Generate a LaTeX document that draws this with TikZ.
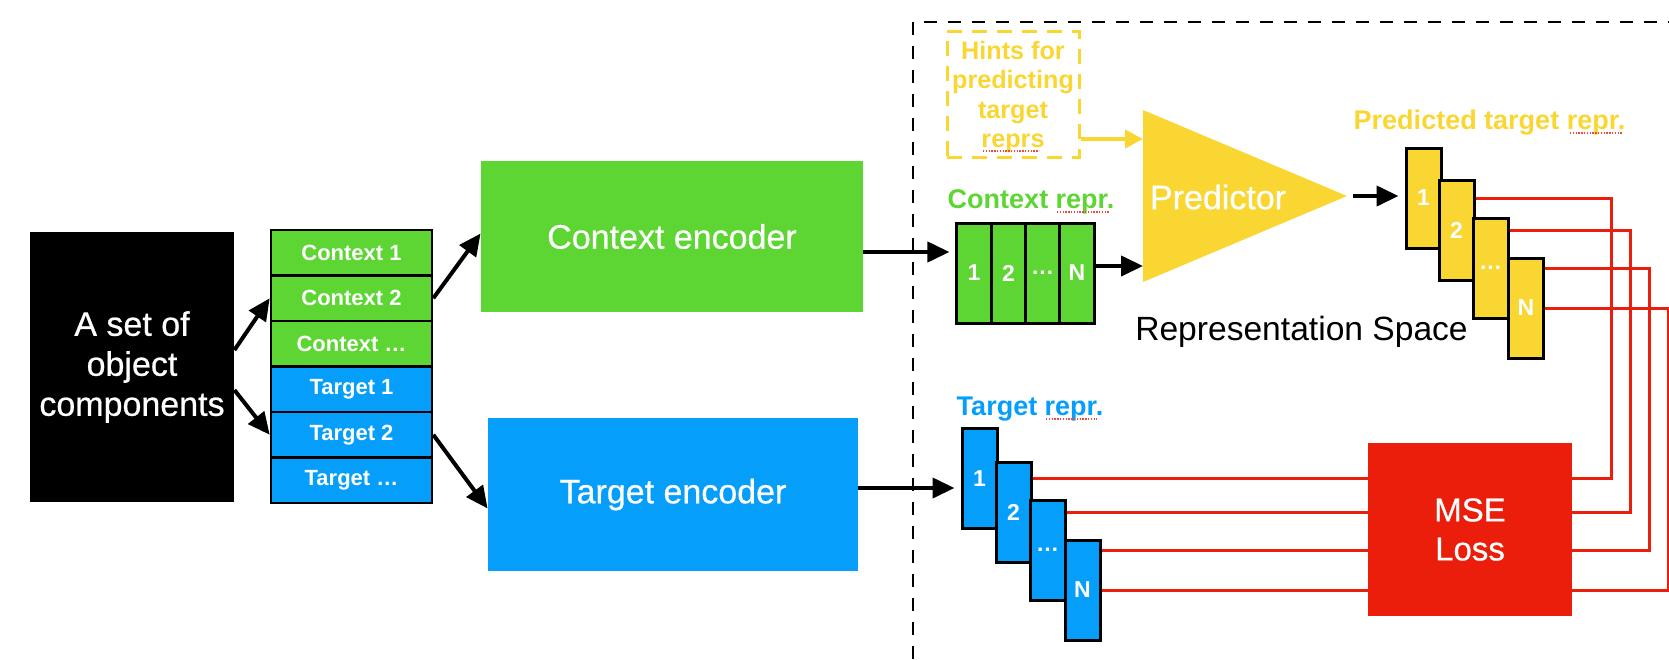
\documentclass[tikz,border=0pt]{standalone}
\usepackage{fontspec}
\setmainfont{Liberation Sans}
\newfontfamily\mediumsans{Liberation Sans}[FakeBold=0.6]
\usetikzlibrary{arrows.meta,calc}

\definecolor{cgreen}{RGB}{93,214,52}
\definecolor{cblue}{RGB}{5,158,250}
\definecolor{cyellow}{RGB}{250,214,50}
\definecolor{cred}{RGB}{234,30,10}

\begin{document}
\begin{tikzpicture}[x=0.5pt,y=-0.5pt,
  bigtext/.style={inner sep=0pt, text=white, align=center,
    font=\mediumsans\fontsize{17}{20}\selectfont},
  stackcell/.style={draw=black, line width=1.3pt, minimum width=80.5pt,
    minimum height=22.75pt, inner sep=0pt, text=white,
    font=\fontsize{11}{13}\selectfont\bfseries},
  reprcell/.style={draw=black, line width=1.5pt, minimum width=17.5pt,
    minimum height=50pt, inner sep=0pt, text=white,
    font=\fontsize{11.5}{13}\selectfont\bfseries},
  reprlabel/.style={inner sep=0pt, font=\fontsize{13.5}{16}\selectfont\bfseries},
  arr/.style={line width=2pt, -{Triangle[length=11pt,width=10pt]}},
  lossline/.style={draw=cred, line width=1.5pt},
  spell/.style={draw=cred!80, line width=0.6pt, dash pattern=on 0.7pt off 0.7pt},
]
\useasboundingbox (0,0) rectangle (1669,659);

% representation-space frame
\draw[line width=1pt, dash pattern=on 6.5pt off 5.5pt] (913,659) -- (913,22) -- (1669,22);

% input set
\node[bigtext, fill=black, minimum width=102pt, minimum height=135pt] (src) at (132,367)
  {A set of\\object\\components};

% context / target split
\node[stackcell, fill=cgreen] (ctx1) at (351.5,252.75) {Context 1};
\node[stackcell, fill=cgreen] (ctx2) at (351.5,298.25) {Context 2};
\node[stackcell, fill=cgreen] (ctx3) at (351.5,343.75) {Context \textellipsis};
\node[stackcell, fill=cblue] (tgt1) at (351.5,389.25) {Target 1};
\node[stackcell, fill=cblue] (tgt2) at (351.5,434.75) {Target 2};
\node[stackcell, fill=cblue] (tgt3) at (351.5,480.25) {Target \textellipsis};

% encoders
\node[bigtext, fill=cgreen, minimum width=191pt, minimum height=75.5pt] (cenc) at (672,236.5) {Context encoder};
\node[bigtext, fill=cblue, minimum width=185pt, minimum height=76.5pt] (tenc) at (673,494.5) {Target encoder};

\draw[arr] ([yshift=8.5pt]src.east) -- (ctx2.west);
\draw[arr] ([yshift=-11.5pt]src.east) -- (tgt2.west);
\draw[arr] (ctx2.east) -- ([yshift=1.5pt]cenc.west);
\draw[arr] (tgt2.east) -- ([yshift=-7pt]tenc.west);

% loss wiring: each target cell to its predicted cell, under the blocks
\coordinate (k1) at (1611,0);
\coordinate (k2) at (1630,0);
\coordinate (k3) at (1649,0);
\coordinate (k4) at (1668,0);
\coordinate (tb1c) at (979.5,478.5);
\coordinate (tb2c) at (1013.5,512);
\coordinate (tb3c) at (1047.5,550);
\coordinate (tb4c) at (1082.5,590);
\coordinate (pb1c) at (1423.5,198);
\coordinate (pb2c) at (1456.5,230.5);
\coordinate (pb3c) at (1490.5,268);
\coordinate (pb4c) at (1526,308);
\draw[lossline] (tb1c) -- (tb1c -| k1) |- (pb1c);
\draw[lossline] (tb2c) -- (tb2c -| k2) |- (pb2c);
\draw[lossline] (tb3c) -- (tb3c -| k3) |- (pb3c);
\draw[lossline] (tb4c) -- (tb4c -| k4) |- (pb4c);

% target representations
\node[reprcell, fill=cblue] (tb1) at (tb1c) {1};
\node[reprcell, fill=cblue] (tb2) at (tb2c) {2};
\node[reprcell, fill=cblue] (tb3) at (tb3c) {\textellipsis};
\node[reprcell, fill=cblue] (tb4) at (tb4c) {N};

% predicted target representations
\node[reprcell, fill=cyellow] (pb1) at (pb1c) {1};
\node[reprcell, fill=cyellow] (pb2) at (pb2c) {2};
\node[reprcell, fill=cyellow] (pb3) at (pb3c) {\textellipsis};
\node[reprcell, fill=cyellow] (pb4) at (pb4c) {N};

% loss
\node[bigtext, fill=cred, minimum width=102pt, minimum height=86.5pt,
  font=\mediumsans\fontsize{16.5}{19.5}\selectfont] (mse) at (1470,529.5) {MSE\\Loss};

% context representation
\node[reprcell, fill=cgreen, minimum width=17.125pt] (cr1) at (974.1,273) {1};
\node[reprcell, fill=cgreen, minimum width=17.125pt] (cr2) at (1008.4,273) {2};
\node[reprcell, fill=cgreen, minimum width=17.125pt] (cr3) at (1042.6,273) {\textellipsis};
\node[reprcell, fill=cgreen, minimum width=17.125pt] (cr4) at (1076.9,273) {N};

% predictor
\coordinate (predL) at (1143,196);
\coordinate (predT) at (1347,196);
\fill[cyellow] (1143,110) -- (predT) -- (1143,282) -- cycle;
\node[bigtext] (pred) at (1218,197) {Predictor};

% hints
\node[draw=cyellow, line width=1.5pt, dash pattern=on 7.5pt off 5pt,
  minimum width=66pt, minimum height=63pt, inner sep=0pt, text=cyellow, align=center,
  font=\fontsize{12.6}{14.6}\selectfont\bfseries] (hints) at (1013,94) {};
\node[inner sep=0pt, text=cyellow, align=center,
  font=\fontsize{12.6}{14.6}\selectfont\bfseries] (hintstext) at (1013,97)
  {Hints for\\predicting\\target\\reprs};
\draw[cyellow, line width=2pt, -{Triangle[length=9pt,width=9pt]}]
  ([yshift=-22.5pt]hints.east) -- ([yshift=-22.5pt]hints.east -| predL);

% main flow arrows
\draw[arr] ([yshift=-7.75pt]cenc.east) -- ([xshift=-3pt,yshift=-7.75pt]cenc.east -| cr1.west);
\draw[arr] ([yshift=3.25pt]tenc.east) -- ([xshift=-3pt,yshift=3.25pt]tenc.east -| tb1.west);
\draw[arr] ([yshift=3.5pt]cr4.east) -- ([yshift=3.5pt]cr4.east -| predL);
\draw[arr] ([xshift=3pt]predT) -- ([xshift=-3pt]predT -| pb1.west);

% labels
\node[reprlabel, text=cgreen] (crlab) at (1031,202) {Context repr.};
\node[reprlabel, text=cblue] (trlab) at (1030,409) {Target repr.};
\node[reprlabel, text=cyellow] (prlab) at (1489.5,123) {Predicted target repr.};
\node[inner sep=0pt, font=\fontsize{16.8}{20}\selectfont] (space) at (1301.5,332) {Representation Space};

% spell-check marks
\draw[spell] (1057,212) -- (1109,212);
\draw[spell] (1046,419) -- (1097,419);
\draw[spell] (1570,133) -- (1622,133);
\draw[spell] (983,151) -- (1039,151);
\end{tikzpicture}
\end{document}
